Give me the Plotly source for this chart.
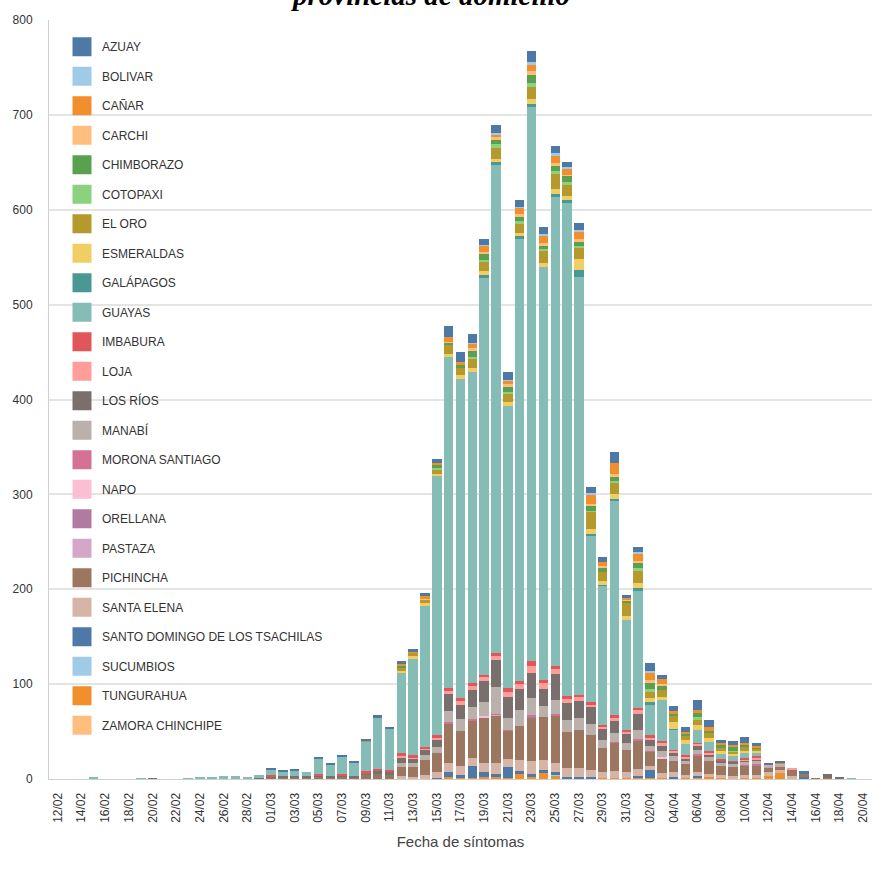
import plotly.graph_objects as go

# ---- categories (fecha de síntomas) ----
dates = (
    ["%02d/02" % d for d in range(12, 30)]
    + ["%02d/03" % d for d in range(1, 32)]
    + ["%02d/04" % d for d in range(1, 21)]
)
tick_labels = dates[::2]

# ---- series values (one list per province, 69 days) ----
azuay = [0,0,0,0,0,0,0,0,0,0, 0,0,0,0,0,0,0,0,1,1, 1,0,1,1,1,1,1,2,2,2,
         3,3,4,12,10,9,6,8,8,7, 11,8,7,5,7,7,5,12,3,6, 8,5,5,5,10,7,3,4,6,3,
         2,1,0,3,0,0,0,0,0]
bolivar = [0,0,0,0,0,0,0,0,0,0, 0,0,0,0,0,0,0,0,0,0, 0,0,0,0,0,0,0,0,0,0,
           0,0,0,0,0,1,1,2,1,1, 3,1,3,1,2,1,0,0,0,1, 2,0,0,0,0,0,0,0,0,0,
           0,0,0,0,0,0,0,0,0]
canar = [0,0,0,0,0,0,0,0,0,0, 0,0,0,0,0,0,0,0,0,0, 0,0,0,0,0,0,0,0,0,2,
         1,3,1,5,4,5,7,2,4,7, 7,8,8,7,8,10,4,12,2,8, 8,5,3,2,3,4,2,2,2,2,
         0,0,0,0,0,0,0,0,0]
carchi = [0,0,0,0,0,0,0,0,0,0, 0,0,0,0,0,0,0,0,0,0, 0,0,0,0,0,0,0,0,0,0,
          0,1,0,1,0,2,1,3,2,2, 4,3,3,1,2,2,2,2,1,2, 2,1,0,0,0,0,0,0,0,0,
          0,0,0,0,0,0,0,0,0]
chimborazo = [0,0,0,0,0,0,0,0,0,0, 0,0,0,0,0,0,0,0,0,0, 0,0,0,0,0,0,0,0,0,2,
              0,0,4,3,2,7,7,5,6,5, 8,3,5,7,5,5,5,5,2,6, 7,5,3,3,5,3,3,4,2,1,
              0,0,0,0,0,0,0,0,0]
cotopaxi = [0,0,0,0,0,0,0,0,0,0, 0,0,0,0,0,0,0,0,0,0, 0,0,0,0,0,0,0,0,0,0,
            0,0,2,0,0,2,2,4,2,2, 5,2,3,2,2,1,0,1,0,2, 3,0,0,0,2,0,0,1,0,0,
            0,0,0,0,0,0,0,0,0]
el_oro = [0,0,0,0,0,0,0,0,0,0, 0,0,0,0,0,0,0,0,0,0, 0,0,0,0,0,0,1,0,0,4,
          3,4,4,9,8,10,10,11,9,10, 12,13,16,13,12,19,9,13,14,13, 7,8,6,4,6,5,3,3,4,2,
          0,1,0,0,0,0,0,0,0]
esmeraldas = [0,0,0,0,0,0,0,0,0,0, 0,0,0,0,0,0,0,0,0,0, 0,0,0,0,0,0,0,0,0,2,
              3,3,2,3,4,4,4,4,4,4, 6,4,5,4,12,5,4,5,4,6, 4,2,7,4,5,4,4,1,2,2,
              0,0,0,0,0,0,0,0,0]
galapagos = [0,0,0,0,0,0,0,0,0,0, 0,0,0,0,0,0,0,0,0,0, 0,0,0,0,0,0,0,0,0,0,
             0,0,0,0,0,0,2,2,0,2, 3,0,4,2,7,1,1,1,0,2, 3,0,1,0,0,0,0,0,0,0,
             0,0,0,0,0,0,0,0,0]
guayas = [0,0,0,1,0,0,0,1,0,0, 0,1,2,1,2,2,1,3,6,5, 6,4,17,12,19,14,32,54,43,85,
          102,148,274,349,337,328,419,515,297,467, 584,436,494,521,440,176,147,227,116,124,
          32,44,21,12,14,10,5,6,6,4, 0,0,0,0,0,0,0,1,0]
imbabura = [0,0,0,0,0,0,0,0,0,0, 0,0,0,0,0,0,0,0,1,0, 0,0,1,0,1,0,2,3,3,2,
            2,2,2,3,3,3,3,3,4,3, 5,3,3,3,3,2,2,2,2,2, 2,2,1,1,1,1,1,1,1,1,
            0,0,0,0,0,0,0,0,0]
loja = [0,0,0,0,0,0,0,0,0,0, 0,0,0,0,0,0,0,0,0,0, 0,0,0,0,0,0,0,0,0,2,
        1,1,2,3,4,4,4,5,6,5, 7,6,5,4,4,3,2,4,2,5, 3,3,2,2,2,2,1,0,1,2,
        1,1,1,0,0,0,0,0,0]
los_rios = [0,0,0,1,0,0,0,0,1,0, 0,0,0,1,1,1,1,1,1,1, 1,1,1,1,1,1,1,2,2,6,
            5,6,8,18,15,18,22,28,22,22, 27,18,28,18,18,18,12,12,10,16, 6,6,4,2,4,3,2,2,2,2,
            0,0,0,0,0,4,1,0,0]
manabi = [0,0,0,0,0,0,0,0,0,0, 0,0,0,0,0,0,0,0,0,0, 0,0,0,0,0,0,0,0,0,4,
          4,5,7,12,12,13,15,28,12,17, 18,12,15,12,12,12,8,10,7,10, 5,6,5,4,5,4,3,3,3,3,
          2,2,0,0,0,0,0,0,0]
morona_santiago = [0,0,0,0,0,0,0,0,0,0, 0,0,0,0,0,0,0,0,0,0, 0,0,0,0,0,0,0,0,0,0,
                   0,0,0,1,0,1,0,1,1,0, 1,0,1,0,0,0,0,1,0,1, 1,0,0,0,1,0,0,0,1,2,
                   0,0,0,0,0,0,0,0,0]
napo = [0,0,0,0,0,0,0,0,0,0, 0,0,0,0,0,0,0,0,0,0, 0,0,0,0,0,0,0,0,0,0,
        0,0,0,1,0,0,1,0,0,0, 0,0,0,0,0,0,0,0,0,0, 0,1,0,0,0,0,0,0,0,0,
        0,0,0,0,0,0,0,0,0]
orellana = [0,0,0,0,0,0,0,0,0,0, 0,0,0,0,0,0,0,0,0,0, 0,0,0,0,0,0,0,0,0,0,
            0,0,0,0,0,0,0,0,0,0, 1,0,0,0,0,0,0,0,0,0, 0,0,0,0,0,0,0,0,0,0,
            0,0,0,0,0,0,0,0,0]
pastaza = [0,0,0,0,0,0,0,0,0,0, 0,0,0,0,0,0,0,0,0,0, 0,0,0,0,0,0,0,0,0,0,
           0,0,0,0,0,0,0,1,0,0, 0,0,0,0,0,0,0,0,0,0, 0,0,0,0,0,0,0,0,0,0,
           0,0,0,0,0,0,0,0,0]
pichincha = [0,0,0,0,0,0,0,0,0,0, 0,0,0,0,0,0,0,0,2,2, 2,2,3,2,3,2,5,6,5,10,
             11,16,20,41,37,40,48,50,30,36, 46,45,50,38,40,36,26,30,24,30, 15,16,12,12,18,14,10,10,10,10,
             5,4,7,2,1,1,1,0,0]
santa_elena = [0,0,0,0,0,0,0,0,0,0, 0,0,0,0,0,0,0,0,0,0, 0,0,0,0,0,0,0,0,0,3,
               2,4,6,10,10,8,10,12,8,12, 14,10,10,10,10,8,6,7,6,8, 5,5,5,3,4,3,3,2,3,3,
               4,3,2,0,0,0,0,0,0]
santo_domingo = [0,0,0,0,0,0,0,0,0,0, 0,0,0,0,0,0,0,0,0,0, 0,0,0,0,0,0,0,0,0,0,
                 0,0,1,5,2,13,5,2,12,2, 2,4,2,1,1,1,0,0,0,1, 8,0,1,0,1,0,0,0,0,0,
                 0,0,0,3,0,0,0,0,0]
sucumbios = [0,0,0,0,0,0,0,0,0,0, 0,0,0,0,0,0,0,0,0,0, 0,0,0,0,0,0,0,0,0,0,
             0,0,0,0,0,0,0,0,0,0, 0,0,1,0,0,0,0,0,0,0, 0,0,0,0,0,0,0,0,0,0,
             0,0,0,0,0,0,0,0,0]
tungurahua = [0,0,0,0,0,0,0,0,0,0, 0,0,0,0,0,0,0,0,0,0, 0,0,0,0,0,0,0,0,0,0,
              0,0,0,2,2,1,2,3,1,6, 2,6,4,1,1,1,1,1,1,2, 1,1,1,1,2,2,1,1,1,1,
              3,6,1,0,0,0,0,0,0]
zamora_chinchipe = [0,0,0,0,0,0,0,0,0,0, 0,0,0,0,0,0,0,0,0,0, 0,0,0,0,0,0,0,0,0,0,
                    0,0,0,0,0,0,0,0,0,0, 1,0,0,0,0,0,0,0,0,0, 0,0,0,0,0,0,0,0,0,0,
                    0,0,0,0,0,0,0,0,0]

provinces = ["AZUAY", "BOLIVAR", "CAÑAR", "CARCHI", "CHIMBORAZO", "COTOPAXI",
             "EL ORO", "ESMERALDAS", "GALÁPAGOS", "GUAYAS", "IMBABURA", "LOJA",
             "LOS RÍOS", "MANABÍ", "MORONA SANTIAGO", "NAPO", "ORELLANA", "PASTAZA",
             "PICHINCHA", "SANTA ELENA", "SANTO DOMINGO DE LOS TSACHILAS",
             "SUCUMBIOS", "TUNGURAHUA", "ZAMORA CHINCHIPE"]
series = [azuay, bolivar, canar, carchi, chimborazo, cotopaxi, el_oro, esmeraldas,
          galapagos, guayas, imbabura, loja, los_rios, manabi, morona_santiago, napo,
          orellana, pastaza, pichincha, santa_elena, santo_domingo, sucumbios,
          tungurahua, zamora_chinchipe]
colors = ["#4e79a7", "#a0cbe8", "#f28e2b", "#ffbe7d", "#59a14f", "#8cd17d",
          "#b6992d", "#f1ce63", "#499894", "#86bcb6", "#e15759", "#ff9d9a",
          "#79706e", "#bab0ac", "#d37295", "#fabfd2", "#b07aa1", "#d4a6c8",
          "#9d7660", "#d7b5a6", "#4e79a7", "#a0cbe8", "#f28e2b", "#ffbe7d"]

fig = go.Figure()

# legend entries (large square swatches)
for name, col in zip(provinces, colors):
    fig.add_trace(go.Scatter(
        x=[None], y=[None], mode="markers", name=name, legendgroup=name,
        marker=dict(symbol="square", size=16, color=col, line=dict(color=col, width=3)),
        hoverinfo="skip", showlegend=True))

# stacked bars: first legend item drawn on top, so add bottom-most first
for name, vals, col in reversed(list(zip(provinces, series, colors))):
    fig.add_trace(go.Bar(
        x=dates, y=vals, name=name, marker=dict(color=col, line=dict(width=0)),
        showlegend=False))

fig.update_layout(
    width=873, height=874,
    barmode="stack", bargap=0.2,
    plot_bgcolor="white", paper_bgcolor="white",
    margin=dict(l=49, r=1, t=20, b=95, autoexpand=False),
    font=dict(family="Liberation Sans, Arial, sans-serif", size=12, color="#333333"),
    legend=dict(
        x=0.0158, y=0.984, xanchor="left", yanchor="top",
        traceorder="grouped", tracegroupgap=10.5, itemsizing="trace",
        bgcolor="rgba(0,0,0,0)", font=dict(size=12, color="#333333"),
    ),
    xaxis=dict(
        type="category", categoryorder="array", categoryarray=dates,
        range=[-0.75, 68.75], automargin=False,
        tickmode="array", tickvals=tick_labels, ticktext=tick_labels,
        tickangle=-90, ticks="", ticklabelstandoff=8, ticklabeloverflow="allow",
        showgrid=False, showline=True, linecolor="#cfcfcf", linewidth=1,
        tickfont=dict(size=12, color="#333333"),
        title=dict(text="Fecha de síntomas", font=dict(size=15, color="#444444"), standoff=14),
    ),
    yaxis=dict(
        range=[0, 800], dtick=100, ticks="", automargin=False,
        showgrid=True, gridcolor="#e4e4e4", gridwidth=2,
        showline=True, linecolor="#cfcfcf", linewidth=1,
        zeroline=False, ticklabelstandoff=13,
        tickfont=dict(size=12, color="#333333"),
    ),
    annotations=[dict(
        text="<b><i>provincias de domicilio</i></b>",
        xref="paper", yref="paper", x=0.463, y=1.0093,
        xanchor="center", yanchor="bottom", showarrow=False,
        font=dict(family="Liberation Serif, Times New Roman, serif", size=29, color="#000000"),
    )],
)

# the page body has a default 8px margin; remove it so the figure fills the window
fig.write_html("out.html", config={"displayModeBar": False},
               post_script="document.body.style.margin='0px';")
